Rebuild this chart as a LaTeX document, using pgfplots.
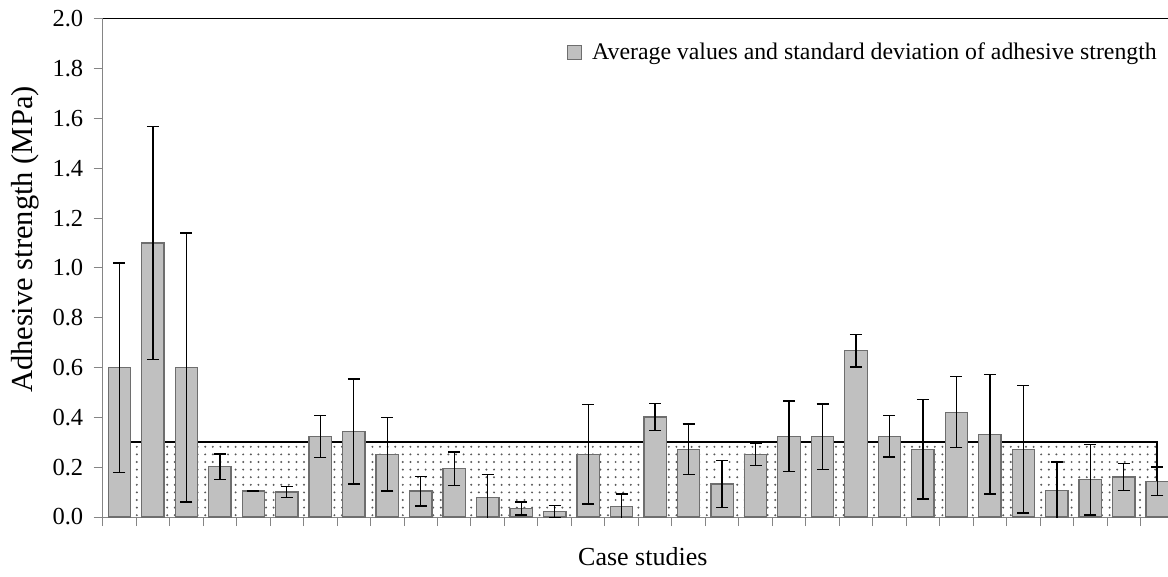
\documentclass[border=0pt]{standalone}
\usepackage{fontspec}
\setmainfont{Liberation Serif}
\usepackage{pgfplots}
\usepackage{pgfplotstable}
\pgfplotsset{compat=1.18}
\usetikzlibrary{patterns.meta}

\definecolor{barfill}{HTML}{C0C0C0}
\definecolor{barline}{HTML}{6E6E6E}
\definecolor{axisgray}{HTML}{858585}

% mean adhesive strength and standard deviation per case study (MPa)
\pgfplotstableread{
case mean sd
1 0.600 0.420
2 1.100 0.468
3 0.600 0.540
4 0.202 0.051
5 0.105 0.002
6 0.101 0.022
7 0.324 0.084
8 0.343 0.211
9 0.252 0.147
10 0.104 0.060
11 0.194 0.067
12 0.079 0.091
13 0.034 0.026
14 0.023 0.024
15 0.252 0.200
16 0.041 0.051
17 0.402 0.055
18 0.272 0.102
19 0.132 0.094
20 0.252 0.045
21 0.324 0.142
22 0.322 0.132
23 0.668 0.065
24 0.324 0.083
25 0.272 0.200
26 0.421 0.143
27 0.332 0.240
28 0.272 0.256
29 0.106 0.115
30 0.150 0.142
31 0.161 0.054
32 0.143 0.058
}\strengthdata

\begin{document}
\begin{tikzpicture}
\begin{axis}[
  at={(0pt,0pt)}, anchor=south west,
  scale only axis, width=1065.3pt, height=498pt,
  xmin=0.5, xmax=32.32, ymin=0, ymax=2,
  clip mode=individual,
  axis lines*=left,
  axis line style={axisgray, line width=1pt},
  tick style={axisgray, line width=1pt},
  tick align=outside, major tick length=9pt,
  xtick={0.5,1.5,...,32.5}, xticklabels={},
  ytick={0,0.2,0.4,0.6,0.8,1.0,1.2,1.4,1.6,1.8,2.0},
  /pgf/number format/assume math mode=true,
  yticklabel style={/pgf/number format/.cd, fixed, fixed zerofill, precision=1,
    /tikz/.cd, xshift=-7pt},
  tick label style={font=\fontsize{24.5}{28}\selectfont, black},
  ylabel={Adhesive strength (MPa)},
  ylabel style={at={(axis description cs:-0.0729,0.557)}, anchor=center,
    font=\fontsize{30.5}{35}\selectfont},
  xlabel={Case studies},
  xlabel style={at={(axis description cs:0.507,-0.080)}, anchor=center,
    font=\fontsize{26}{30}\selectfont},
  legend style={at={(axis description cs:0.4358,0.9337)}, anchor=west,
    draw=none, fill=none, inner sep=0pt,
    nodes={inner sep=0pt, font=\fontsize{23.8}{28}\selectfont}},
  legend cell align=left,
]
% dotted band below the 0.3 MPa level
\addplot[draw=none, pattern={Dots[distance=7.6pt, radius=1.1pt]},
  pattern color=black!65, forget plot]
  coordinates {(1,0.3) (32,0.3)} \closedcycle;
\addplot[black, line width=1.8pt, forget plot]
  coordinates {(1,0.3) (32,0.3) (32,0)};
% bars with standard deviation
\addplot[ybar, bar width=22.4pt, fill=barfill, draw=barline, line width=1.3pt,
  legend image code/.code={%
    \draw[barline, fill=barfill, line width=0.8pt] (0pt,-7pt) rectangle (14pt,7pt);
    \path (24pt,0pt);},
  error bars/.cd, y dir=both, y explicit,
  error bar style={black, line width=1.3pt},
  error mark options={rotate=90, mark size=6pt, black, line width=1.3pt}]
  table[x=case, y=mean, y error=sd] {\strengthdata};
\addlegendentry{Average values and standard deviation of adhesive strength}
\draw[black, line width=1pt] (rel axis cs:0,1) -- (rel axis cs:1,1);
\end{axis}
\pgfresetboundingbox
\useasboundingbox (-102.7pt,-59pt) rectangle (1065.3pt,517pt);
\end{tikzpicture}
\end{document}
